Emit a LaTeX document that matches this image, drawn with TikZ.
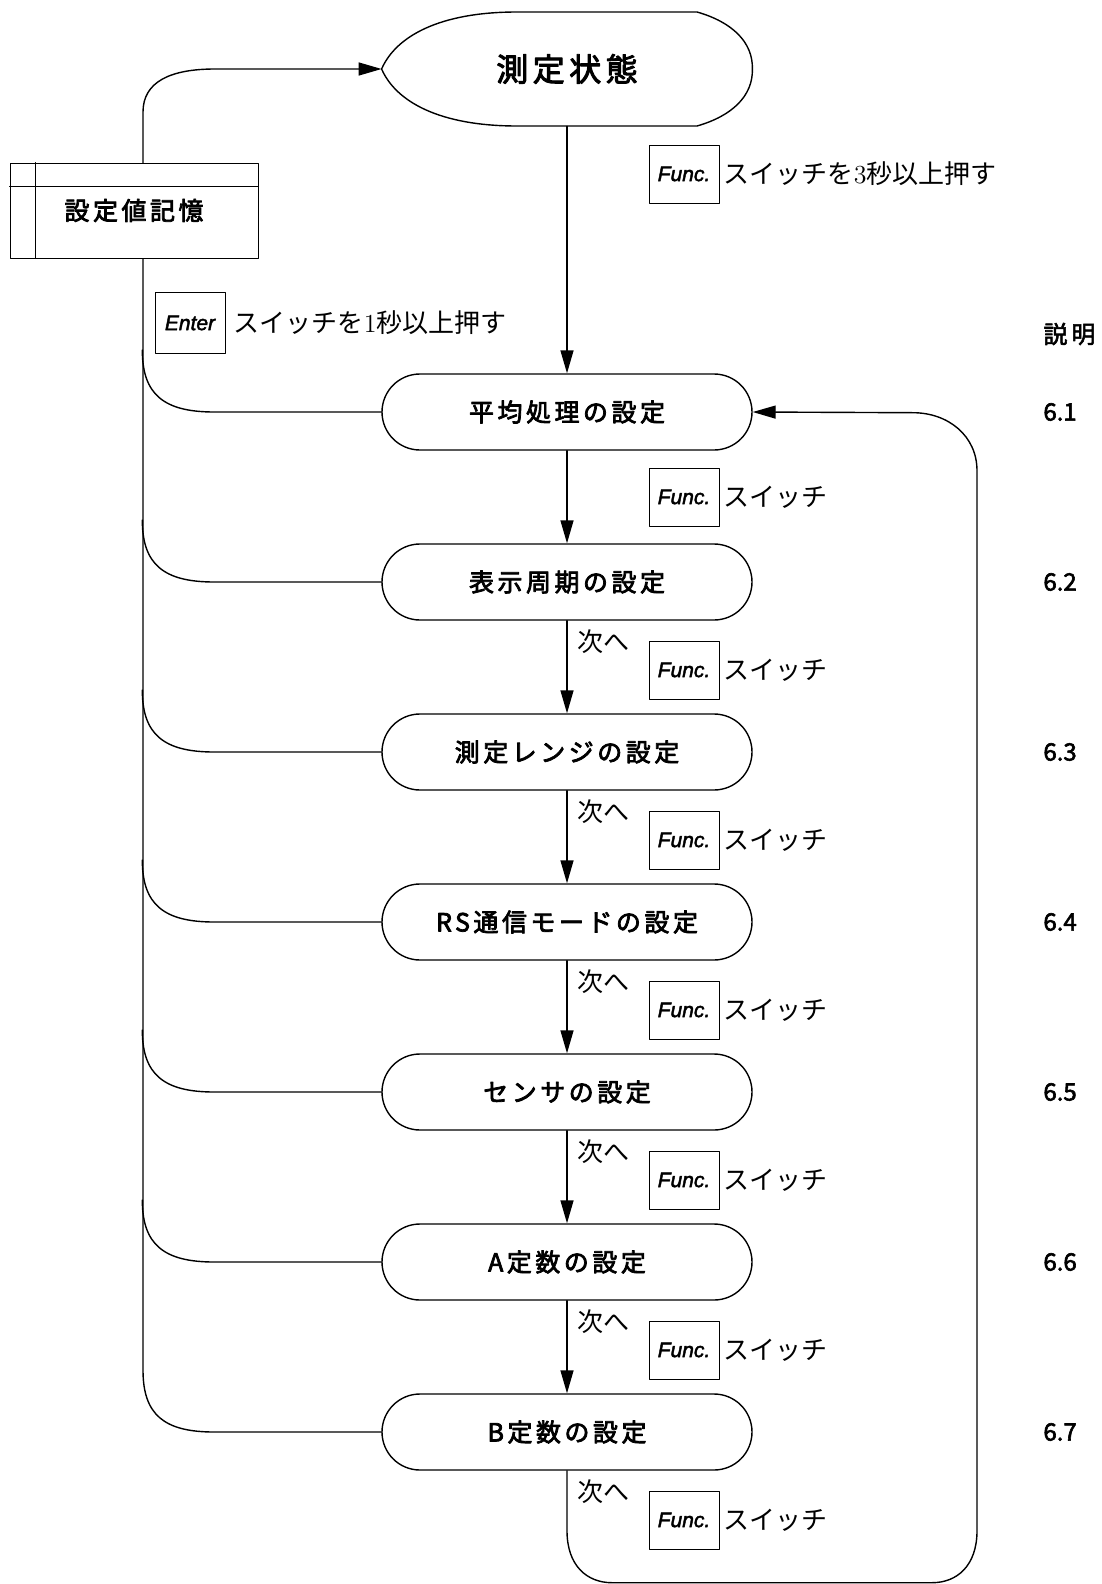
\documentclass[tikz,border=0pt]{standalone}
\usepackage{fontspec}
\newfontfamily\jpgothic[LetterSpace=14,FakeBold=3]{Noto Sans CJK JP}
\newfontfamily\jpnum[FakeBold=2.5]{Noto Sans CJK JP}
\newfontfamily\jptext{Noto Sans CJK JP}
\newfontfamily\keyfont[FakeBold=2]{Liberation Sans}
\usetikzlibrary{arrows.meta,positioning}

\begin{document}
\begin{tikzpicture}[
		x=0.5pt,y=-0.5pt,
		line cap=round,
		line join=round,
		stepnode/.style={draw, rounded corners=19pt, line width=0.7pt, fill=white, minimum width=185pt, minimum height=38pt, inner sep=0pt, font=\jpgothic\fontsize{12.5}{14}\selectfont},
		keybox/.style={draw, line width=0.5pt, minimum width=35pt, minimum height=29pt, inner sep=0pt, font=\keyfont\itshape\fontsize{10.5}{12}\selectfont},
		note/.style={anchor=west, inner sep=0pt, font=\jptext\fontsize{13}{15}\selectfont},
		secnum/.style={anchor=west, inner sep=0pt, font=\jpnum\fontsize{12}{14}\selectfont},
		link/.style={line width=0.7pt},
		flow/.style={-{Triangle[length=11.5pt,width=6.5pt]}, line width=0.7pt}
	]
	\useasboundingbox (0,0) rectangle (1102,1584);
	
	% Measuring state
	\node[minimum width=185pt, minimum height=57pt, inner sep=0pt, font=\jpgothic\fontsize{16}{18}\selectfont] (meas) at (567,69) {測定状態};
	\draw[link] (meas.west) .. controls (396,36) and (440,12) .. (517,12) -- (697,12) .. controls (732,22) and (753,42) .. (meas.east) .. controls (753,96) and (732,116) .. (697,126) -- (517,126) .. controls (440,126) and (396,102) .. (meas.west);
	
	% Setting steps
	\node[stepnode] (avg)    at (567,412)  {平均処理の設定};
	\node[stepnode] (cycle)  at (567,582)  {表示周期の設定};
	\node[stepnode] (range)  at (567,752)  {測定レンジの設定};
	\node[stepnode] (rsmode) at (567,922)  {RS通信モードの設定};
	\node[stepnode] (sensor) at (567,1092) {センサの設定};
	\node[stepnode] (aconst) at (567,1262) {A定数の設定};
	\node[stepnode] (bconst) at (567,1432) {B定数の設定};
	
	% Main flow
	\draw[flow] (meas.south) -- (avg.north);
	\draw[flow] (avg.south) -- (cycle.north);
	\draw[flow] (cycle.south) -- (range.north);
	\draw[flow] (range.south) -- (rsmode.north);
	\draw[flow] (rsmode.south) -- (sensor.north);
	\draw[flow] (sensor.south) -- (aconst.north);
	\draw[flow] (aconst.south) -- (bconst.north);
	\draw[flow] (bconst.south) -- ++(0,60) .. controls +(0,35) and +(-25,0) .. ++(45,52) -- ++(320,0) .. controls +(25,0) and +(0,35) .. ++(45,-52) -- ++(0,-1060) .. controls +(0,-35) and +(35,0) .. ++(-64,-58) -- (avg.east);
	
	% Return to measuring state
	\coordinate (spinetop) at (143,112);
	\coordinate (spinebot) at (143,1370);
	\draw[flow] (bconst.west) -- ++(-167,0) .. controls +(-50,0) and +(0,45) .. (spinebot) -- (spinetop) .. controls +(0,-30) and +(-45,0) .. ++(72,-43) -- (meas.west);
	\draw[link] (avg.west) -- ++(-167,0) .. controls +(-50,0) and +(0,45) .. ++(-72,-62);
	\draw[link] (cycle.west) -- ++(-167,0) .. controls +(-50,0) and +(0,45) .. ++(-72,-62);
	\draw[link] (range.west) -- ++(-167,0) .. controls +(-50,0) and +(0,45) .. ++(-72,-62);
	\draw[link] (rsmode.west) -- ++(-167,0) .. controls +(-50,0) and +(0,45) .. ++(-72,-62);
	\draw[link] (sensor.west) -- ++(-167,0) .. controls +(-50,0) and +(0,45) .. ++(-72,-62);
	\draw[link] (aconst.west) -- ++(-167,0) .. controls +(-50,0) and +(0,45) .. ++(-72,-62);
	
	% Memory box
	\node[draw, fill=white, line width=0.5pt, minimum width=124pt, minimum height=47.5pt, inner sep=0pt, font=\jpgothic\fontsize{12.5}{14}\selectfont] (memo) at (134,210.5) {設定値記憶};
	\draw[line width=0.5pt] ([xshift=13pt]memo.north west) -- ([xshift=13pt]memo.south west);
	\draw[line width=0.5pt] ([yshift=-12pt]memo.north west) -- ([yshift=-12pt]memo.north east);
	
	% Switch labels
	\node[keybox] (fkey0) at (684,174) {Func.};
	\node[note, right=2pt of fkey0] (fnote0) {スイッチを{\rmfamily 3}秒以上押す};
	\node[keybox, minimum height=30.5pt] (ekey) at (190,323) {Enter};
	\node[note, right=4pt of ekey] (enote) {スイッチを{\rmfamily 1}秒以上押す};
	\node[keybox] (fkey1) at (684,497) {Func.};
	\node[note, right=2pt of fkey1] (fnote1) {スイッチ};
	
	\node[note] (next2) at (577,642) {次へ};
	\node[keybox] (fkey2) at (684,670) {Func.};
	\node[note, right=2pt of fkey2] (fnote2) {スイッチ};
	\node[note] (next3) at (577,812) {次へ};
	\node[keybox] (fkey3) at (684,840) {Func.};
	\node[note, right=2pt of fkey3] (fnote3) {スイッチ};
	\node[note] (next4) at (577,982) {次へ};
	\node[keybox] (fkey4) at (684,1010) {Func.};
	\node[note, right=2pt of fkey4] (fnote4) {スイッチ};
	\node[note] (next5) at (577,1152) {次へ};
	\node[keybox] (fkey5) at (684,1180) {Func.};
	\node[note, right=2pt of fkey5] (fnote5) {スイッチ};
	\node[note] (next6) at (577,1322) {次へ};
	\node[keybox] (fkey6) at (684,1350) {Func.};
	\node[note, right=2pt of fkey6] (fnote6) {スイッチ};
	\node[note] (next7) at (577,1492) {次へ};
	\node[keybox] (fkey7) at (684,1520) {Func.};
	\node[note, right=2pt of fkey7] (fnote7) {スイッチ};
	
	% Section numbers
	\node[secnum] (sechead) at (1043,334) {説\,明};
	\node[secnum] (sec1) at (1043,412)  {6.1};
	\node[secnum] (sec2) at (1043,582)  {6.2};
	\node[secnum] (sec3) at (1043,752)  {6.3};
	\node[secnum] (sec4) at (1043,922)  {6.4};
	\node[secnum] (sec5) at (1043,1092) {6.5};
	\node[secnum] (sec6) at (1043,1262) {6.6};
	\node[secnum] (sec7) at (1043,1432) {6.7};
	
\end{tikzpicture}
\end{document}
